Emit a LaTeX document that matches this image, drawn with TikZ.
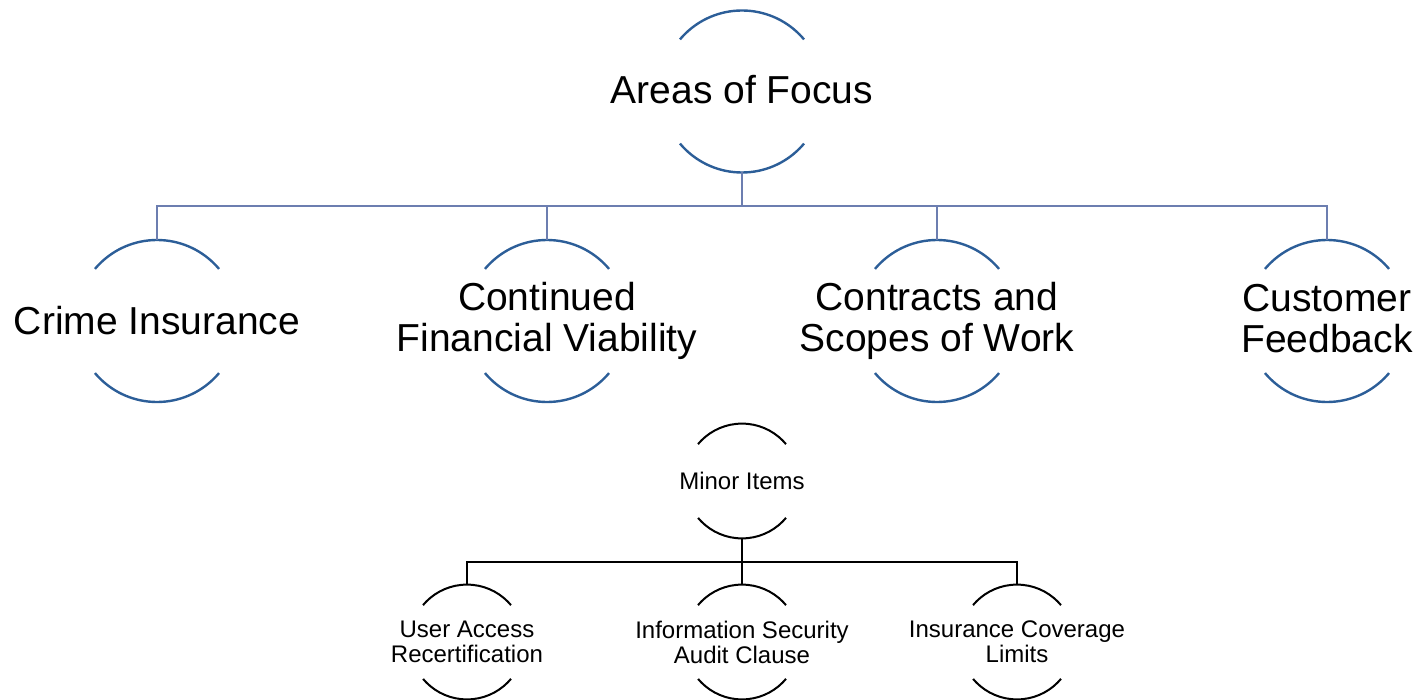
\documentclass[tikz,border=0pt]{standalone}
\usepackage{fontspec}
\setmainfont{Liberation Sans}
\usetikzlibrary{calc}
\usetikzlibrary{positioning}
\definecolor{arcblue}{RGB}{44,94,152}
\definecolor{linkblue}{RGB}{108,126,176}
\newcommand{\bigtext}{\fontsize{39}{41}\selectfont}
\newcommand{\smalltext}{\fontsize{24}{25}\selectfont}
\tikzset{area/.style={circle,minimum size=162pt,inner sep=0pt,outer sep=0pt,draw=arcblue,line width=2.4pt,dash pattern=on 0pt off 56.55pt on 141.37pt off 113.10pt on 141.37pt off 56.55pt}}
\tikzset{item/.style={circle,minimum size=114.8pt,inner sep=0pt,outer sep=0pt,draw=black,line width=2pt,dash pattern=on 0pt off 40.07pt on 100.18pt off 80.15pt on 100.18pt off 40.07pt}}
\tikzset{areatext/.style={align=center,font=\bigtext}}
\tikzset{itemtext/.style={align=center,font=\smalltext}}
\tikzset{branch/.style={draw=#1,line width=2pt,to path={(\tikztostart.south) -- ($(\tikztostart.south)!.5!(\tikztostart.south |- \tikztotarget.north)$) -| (\tikztotarget.north)}}}
\tikzset{branches/.style={every edge/.style={branch=#1}}}

\begin{document}
\begin{tikzpicture}[x=1pt,y=-1pt]
  \useasboundingbox (0,0) rectangle (1420,700);
  % areas of focus
  \node [area,label={[areatext,yshift=1.5pt]center:Areas of Focus}] (focus) at (742,91.5) {};
  \node [area,label={[areatext]center:Crime Insurance}] (crime) at (157,321) {};
  \node [area,label={[areatext]center:Continued\\Financial Viability}] (viability) at (547,321) {};
  \node [area,label={[areatext]center:Contracts and\\Scopes of Work}] (contracts) at (937,321) {};
  \node [area,label={[areatext,yshift=2pt]center:Customer\\Feedback}] (feedback) at (1327,321) {};
  \path [branches=linkblue]
  (focus) edge (crime)
  (focus) edge (viability)
  (focus) edge (contracts)
  (focus) edge (feedback);
  % minor items
  \node [item,label={[itemtext]center:Minor Items}] (minor) at (742,481) {};
  \node [item,label={[itemtext]center:User Access\\Recertification}] (access) at (467,642) {};
  \node [item,label={[itemtext]center:Information Security\\Audit Clause}] (audit) at (742,642) {};
  \node [item,label={[itemtext]center:Insurance Coverage\\Limits}] (coverage) at (1017,642) {};
  \path [branches=black]
  (minor) edge (access)
  (minor) edge (audit)
  (minor) edge (coverage);
\end{tikzpicture}
\end{document}
